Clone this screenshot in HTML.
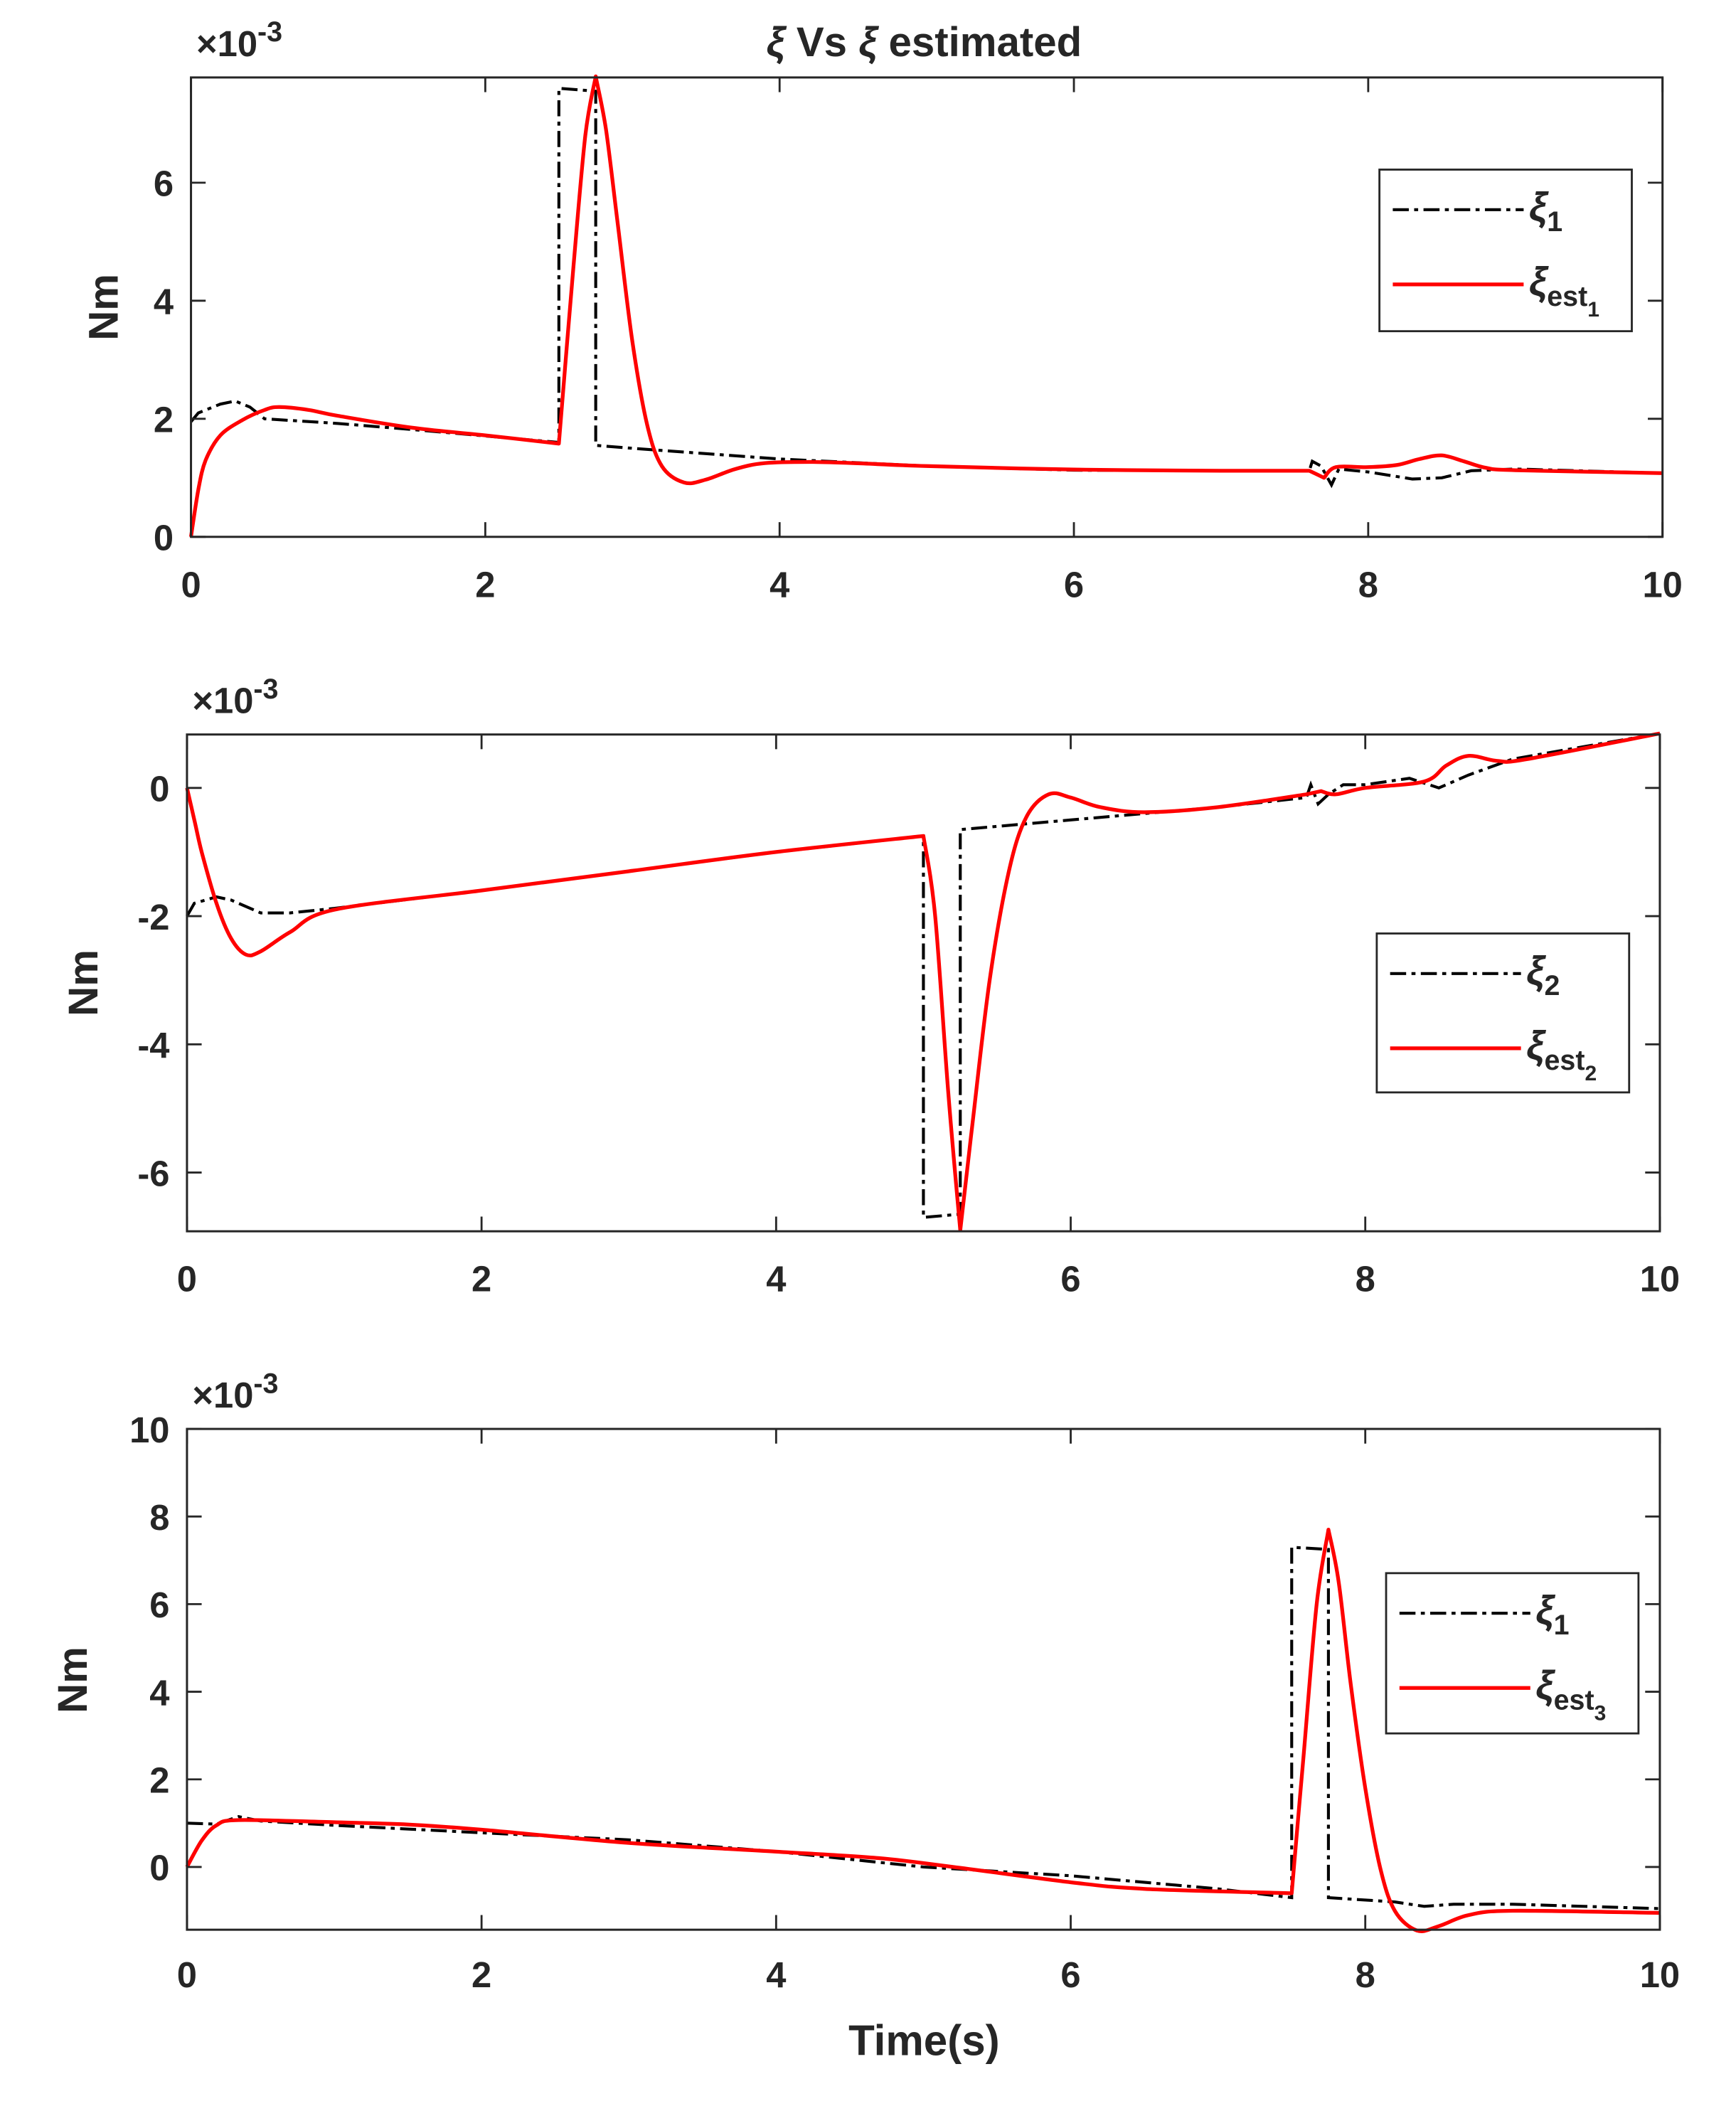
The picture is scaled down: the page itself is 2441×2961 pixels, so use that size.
<!DOCTYPE html>
<html><head><meta charset="utf-8"><style>
html,body{margin:0;padding:0;background:#fff}
svg{display:block}
text{font-family:"Liberation Sans",sans-serif;font-weight:bold;fill:#262626}
</style></head><body>
<svg id="s" width="2441" height="2961" viewBox="0 0 1300 1577" xmlns="http://www.w3.org/2000/svg">
<rect width="1300" height="1577" fill="#fff"/>
<text x="692" y="42" font-size="31" text-anchor="middle"><tspan font-style="italic">ξ</tspan> Vs <tspan font-style="italic">ξ</tspan> estimated</text>
<g id="g"></g>
<text x="692" y="1539" font-size="32" text-anchor="middle">Time(s)</text>
</svg>
<script>
const NS="http://www.w3.org/2000/svg";const g=document.getElementById('g');
function el(t,a,txt){const e=document.createElementNS(NS,t);for(const k in a)e.setAttribute(k,a[k]);if(txt!==undefined)e.textContent=txt;g.appendChild(e);return e;}
const plots=[
{L:143,R:1245,T:58,B:402,y0:402,sy:44.2,yt:[0,2,4,6],ylx:130,xly:447,nmx:88,nmy:230,ex:147,ey:42,
 leg:[1033,127,189,121],lab1:"1",sub2:"1",corners:[2.5,2.75,7.6,7.7],
 red:[[0,0],[0.05,0.8],[0.1,1.3],[0.2,1.72],[0.35,1.98],[0.5,2.15],[0.6,2.2],[0.8,2.15],[1.0,2.05],[1.5,1.85],[2.0,1.72],[2.5,1.58],[2.6,4.6],[2.68,6.8],[2.75,7.8],[2.82,6.9],[2.9,5.3],[3.0,3.3],[3.1,1.9],[3.2,1.2],[3.35,0.92],[3.5,0.97],[3.7,1.15],[3.9,1.25],[4.2,1.27],[4.5,1.25],[5,1.2],[6,1.14],[7,1.12],[7.6,1.12],[7.7,1.0],[7.78,1.18],[8.0,1.18],[8.2,1.22],[8.35,1.32],[8.5,1.38],[8.65,1.28],[8.8,1.17],[9,1.13],[10,1.08]],
 blk:[[0,1.95],[0.05,2.1],[0.2,2.25],[0.3,2.3],[0.4,2.2],[0.5,2.0],[1,1.92],[1.5,1.82],[2.5,1.6],[2.5,7.6],[2.75,7.55],[2.75,1.55],[3,1.5],[4,1.32],[5,1.2],[6,1.13],[7.6,1.12],[7.62,1.28],[7.68,1.2],[7.75,0.88],[7.8,1.15],[8.0,1.1],[8.3,0.98],[8.5,1.0],[8.7,1.12],[9,1.15],[10,1.08]]},
{L:140,R:1243,T:550,B:922,y0:590,sy:48,yt:[0,-2,-4,-6],ylx:127,xly:967,nmx:73,nmy:736,ex:144,ey:534,
 leg:[1031,699,189,119],lab1:"2",sub2:"2",corners:[5,5.25,7.6,7.7],
 red:[[0,0],[0.05,-0.5],[0.1,-1.0],[0.2,-1.8],[0.3,-2.35],[0.4,-2.6],[0.5,-2.55],[0.7,-2.25],[1.0,-1.9],[2,-1.6],[3,-1.3],[4,-1.0],[5,-0.75],[5.08,-2],[5.17,-4.8],[5.25,-6.9],[5.33,-5.3],[5.45,-3.0],[5.58,-1.3],[5.7,-0.45],[5.85,-0.1],[6.0,-0.15],[6.2,-0.3],[6.5,-0.38],[7,-0.3],[7.6,-0.1],[7.7,-0.05],[7.8,-0.1],[8,0],[8.4,0.1],[8.55,0.35],[8.7,0.5],[8.9,0.42],[9.1,0.45],[10,0.85]],
 blk:[[0,-2.0],[0.05,-1.8],[0.2,-1.7],[0.3,-1.75],[0.5,-1.95],[0.7,-1.95],[1.0,-1.88],[2,-1.6],[3,-1.3],[4,-1.0],[5,-0.75],[5,-6.7],[5.25,-6.65],[5.25,-0.65],[6,-0.5],[7,-0.3],[7.6,-0.15],[7.63,0.05],[7.68,-0.25],[7.75,-0.1],[7.85,0.05],[8.0,0.05],[8.3,0.15],[8.5,0.0],[8.7,0.2],[9,0.45],[10,0.85]]},
{L:140,R:1243,T:1070,B:1445,y0:1398,sy:32.8,yt:[0,2,4,6,8,10],ylx:127,xly:1488,nmx:65,nmy:1258,ex:144,ey:1054,
 leg:[1038,1178,189,120],lab1:"1",sub2:"3",corners:[7.5,7.75],
 red:[[0,0],[0.1,0.6],[0.2,0.95],[0.35,1.07],[1,1.02],[1.5,0.97],[2,0.85],[3,0.55],[4,0.35],[4.7,0.2],[5.2,0.0],[6,-0.35],[6.5,-0.5],[7.5,-0.6],[7.58,2.5],[7.67,6.0],[7.75,7.7],[7.82,6.5],[7.9,4.2],[8.0,1.8],[8.1,0],[8.2,-1.0],[8.35,-1.45],[8.5,-1.35],[8.7,-1.1],[9,-1.0],[10,-1.05]],
 blk:[[0,1.0],[0.2,0.98],[0.35,1.15],[0.5,1.05],[1,0.95],[2,0.78],[3,0.62],[4,0.35],[5,0.0],[6,-0.2],[7,-0.5],[7.5,-0.7],[7.5,7.3],[7.75,7.25],[7.75,-0.7],[8.2,-0.8],[8.4,-0.9],[8.6,-0.85],[9,-0.85],[10,-0.95]]}
];
function smoothSeg(P,start){let s=start?'M'+P[0][0].toFixed(1)+' '+P[0][1].toFixed(1):'';
 for(let i=0;i<P.length-1;i++){const p0=P[Math.max(i-1,0)],p1=P[i],p2=P[i+1],p3=P[Math.min(i+2,P.length-1)];
  const c1=[p1[0]+(p2[0]-p0[0])/6,p1[1]+(p2[1]-p0[1])/6],c2=[p2[0]-(p3[0]-p1[0])/6,p2[1]-(p3[1]-p1[1])/6];
  s+=` C${c1[0].toFixed(1)} ${c1[1].toFixed(1)} ${c2[0].toFixed(1)} ${c2[1].toFixed(1)} ${p2[0].toFixed(1)} ${p2[1].toFixed(1)}`;}
 return s;}
function smooth(data,corners,X,Y){
 const segs=[];let cur=[];
 data.forEach(q=>{cur.push(q);if(corners.includes(q[0])){segs.push(cur);cur=[q];}});
 if(cur.length>1)segs.push(cur);
 return segs.map((s,i)=>smoothSeg(s.map(q=>[X(q[0]),Y(q[1])]),i===0)).join(' ');}
for(const p of plots){
 const sx=(p.R-p.L)/10;const X=x=>p.L+sx*x, Y=y=>p.y0-p.sy*y;
 const d=a=>a.map((q,i)=>(i?'L':'M')+X(q[0]).toFixed(1)+' '+Y(q[1]).toFixed(1)).join(' ');
 el('path',{d:d(p.blk),fill:'none',stroke:'#000','stroke-width':2.2,'stroke-dasharray':'12 4 3 4'});
 el('path',{d:smooth(p.red,p.corners,X,Y),fill:'none',stroke:'#f00','stroke-width':2.8,'stroke-linejoin':'round'});
 el('rect',{x:p.L,y:p.T,width:p.R-p.L,height:p.B-p.T,fill:'none',stroke:'#262626','stroke-width':1.6});
 for(let i=0;i<=10;i+=2){const x=X(i);
  el('line',{x1:x,x2:x,y1:p.B,y2:p.B-11,stroke:'#262626','stroke-width':1.5});
  el('line',{x1:x,x2:x,y1:p.T,y2:p.T+11,stroke:'#262626','stroke-width':1.5});
  el('text',{x:x,y:p.xly,'font-size':27,'text-anchor':'middle'},String(i));}
 for(const v of p.yt){const y=Y(v);
  el('line',{x1:p.L,x2:p.L+11,y1:y,y2:y,stroke:'#262626','stroke-width':1.5});
  el('line',{x1:p.R,x2:p.R-11,y1:y,y2:y,stroke:'#262626','stroke-width':1.5});
  el('text',{x:p.ylx,y:y+10,'font-size':27,'text-anchor':'end'},String(v));}
 const t=el('text',{x:p.ex,y:p.ey,'font-size':27});
 t.innerHTML='×10<tspan dy="-11" font-size="21">-3</tspan>';
 el('text',{x:p.nmx,y:p.nmy,'font-size':31,'text-anchor':'middle',transform:`rotate(-90 ${p.nmx} ${p.nmy})`},'Nm');
 const [lx,ly,lw,lh]=p.leg;
 el('rect',{x:lx,y:ly,width:lw,height:lh,fill:'#fff',stroke:'#262626','stroke-width':1.5});
 el('line',{x1:lx+10,x2:lx+108,y1:ly+30,y2:ly+30,stroke:'#000','stroke-width':2.2,'stroke-dasharray':'12 4 3 4'});
 el('line',{x1:lx+10,x2:lx+108,y1:ly+86,y2:ly+86,stroke:'#f00','stroke-width':2.8});
 const a=el('text',{x:lx+112,y:ly+38,'font-size':30});
 a.innerHTML='<tspan font-style="italic">ξ</tspan><tspan dy="8" font-size="21">'+p.lab1+'</tspan>';
 const b=el('text',{x:lx+112,y:ly+94,'font-size':30});
 b.innerHTML='<tspan font-style="italic">ξ</tspan><tspan dy="8" font-size="21">est</tspan><tspan dy="8" font-size="16">'+p.sub2+'</tspan>';
}
</script>
</body></html>
